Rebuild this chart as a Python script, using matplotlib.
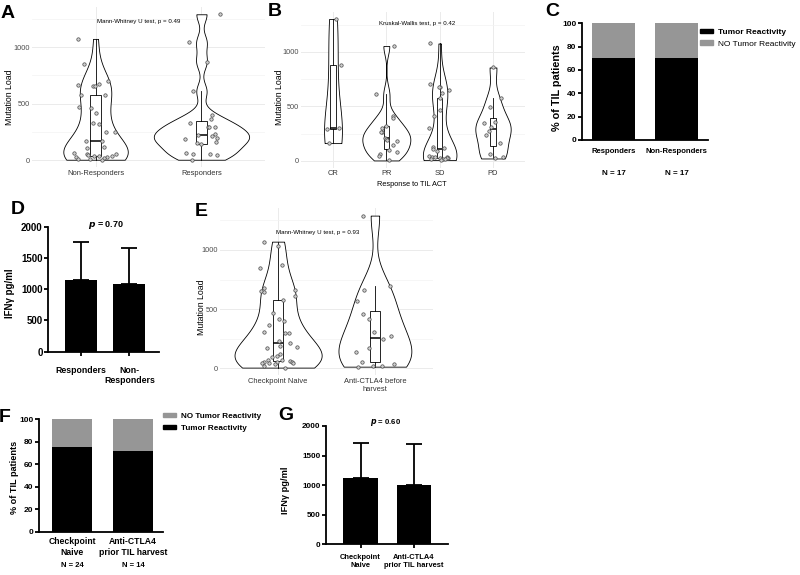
import numpy as np
import matplotlib
matplotlib.use("Agg")
import matplotlib.pyplot as plt
from matplotlib.patches import Patch

plt.rcParams['font.family'] = ['Liberation Sans', 'DejaVu Sans']

W, H = 800, 575

# --- data ---
# A: mutation load by response
mut_nonresp = [1073, 852, 698, 672, 669, 660, 654, 578, 572, 469, 457, 413, 324, 318,
               250, 248, 168, 165, 118, 109, 62, 53, 53, 41, 38, 38, 38, 27, 24, 18,
               12, 12, 3]
mut_resp = [1291, 1043, 872, 610, 398, 363, 324, 289, 289, 289, 227, 221, 212, 195,
            183, 162, 150, 139, 65, 53, 50, 41, 3]
labels_a = ['Non-Responders', 'Responders']

# B: mutation load by best response
mut_cr = [1300, 875, 300, 290, 162]
mut_pr = [1052, 609, 407, 394, 321, 300, 266, 263, 211, 202, 190, 180, 141, 95, 83,
          58, 46, 3]
mut_sd = [1076, 703, 673, 673, 648, 620, 572, 465, 413, 303, 130, 113, 107, 89, 46,
          37, 37, 31, 28, 21, 21, 15, 15, 12, 6]
mut_pd = [856, 572, 495, 358, 349, 312, 275, 235, 159, 58, 37, 21]
labels_b = ['CR', 'PR', 'SD', 'PD']

# C: tumor reactivity by response
labels_c = ['Responders', 'Non-Responders']
react_c = [70.6, 70.6]
n_c = [17, 17]

# D: IFNg by response
labels_d = ['Responders', 'Non-\nResponders']
ifng_d = [1150, 1080]
ifng_d_sd = [600, 585]

# E: mutation load by prior checkpoint
mut_naive = [1070, 1037, 873, 851, 676, 662, 656, 642, 608, 577, 470, 414, 400, 366,
             304, 301, 296, 234, 211, 192, 183, 169, 121, 104, 99, 70, 70, 59, 56, 56,
             51, 48, 45, 42, 34, 20, 6]
mut_ctla4 = [1290, 699, 659, 572, 456, 417, 310, 273, 245, 169, 141, 56, 34, 20, 20, 14]
labels_e = ['Checkpoint Naive', 'Anti-CTLA4 before\nharvest']

# F: tumor reactivity by prior checkpoint
labels_f = ['Checkpoint\nNaive', 'Anti-CTLA4\nprior TIL harvest']
react_f = [75.0, 71.4]
n_f = [24, 14]

# G: IFNg by prior checkpoint
labels_g = ['Checkpoint\nNaive', 'Anti-CTLA4\nprior TIL harvest']
ifng_g = [1115, 1005]
ifng_g_sd = [605, 695]

GRAY = '#969696'

fig = plt.figure(figsize=(W / 100, H / 100), dpi=100)


def axes_px(x0, y0, x1, y1):
    return fig.add_axes([x0 / W, 1 - y1 / H, (x1 - x0) / W, (y1 - y0) / H])


def ftext(x, y, s, **kw):
    fig.text(x / W, 1 - y / H, s, **kw)


def kde_nrd0(vals, grid):
    v = np.asarray(vals, float)
    n = len(v)
    sd = v.std(ddof=1)
    q75, q25 = np.percentile(v, [75, 25])
    lo = min(sd, (q75 - q25) / 1.34)
    if lo <= 0:
        lo = sd
    bw = 0.9 * lo * n ** -0.2
    z = (grid[:, None] - v[None, :]) / bw
    return np.exp(-0.5 * z ** 2).sum(1) / (n * bw * np.sqrt(2 * np.pi))


def violin_panel(ax, groups, labels, seed):
    pos = np.arange(1, len(groups) + 1)
    curves = []
    for g in groups:
        grid = np.linspace(min(g), max(g), 300)
        curves.append((grid, kde_nrd0(g, grid)))
    peak = max(d.max() for _, d in curves)
    for p, (grid, d) in zip(pos, curves):
        hw = 0.45 * d / peak
        ax.fill_betweenx(grid, p - hw, p + hw, facecolor='white',
                         edgecolor='black', lw=0.6, zorder=2)
    ax.boxplot(groups, positions=pos, widths=0.1, showfliers=False, showcaps=False,
               patch_artist=True, zorder=3,
               boxprops=dict(facecolor='white', edgecolor='black', lw=0.6),
               whiskerprops=dict(color='black', lw=0.6),
               medianprops=dict(color='black', lw=1.1))
    # jitter (x only), as geom_jitter does
    rng = np.random.default_rng(seed)
    for p, g in zip(pos, groups):
        xj = p + rng.uniform(-0.2, 0.2, len(g))
        ax.scatter(xj, g, s=6, facecolor='#cfcfcf', edgecolor='#4a4a4a',
                   lw=0.5, zorder=4)
    allv = np.concatenate([np.asarray(g, float) for g in groups])
    rngv = allv.max() - allv.min()
    ax.set_ylim(allv.min() - 0.05 * rngv, allv.max() + 0.05 * rngv)
    ax.set_xlim(0.4, len(groups) + 0.6)
    ax.set_xticks(pos, labels)
    ax.set_yticks([0, 500, 1000])
    ax.set_yticks([250, 750, 1250], minor=True)
    ax.grid(which='major', color='#ebebeb', lw=0.7)
    ax.grid(which='minor', axis='y', color='#f3f3f3', lw=0.5)
    ax.set_axisbelow(True)
    for s in ax.spines.values():
        s.set_visible(False)
    ax.tick_params(which='both', length=0, labelsize=5.3, labelcolor='#4d4d4d', pad=1.5)
    ax.tick_params(axis='x', labelsize=5.4, labelcolor='#333333', pad=2)


def prism_axes(ax, ylim, yticks, tick_fs, ytick_len=3):
    for s in ['top', 'right']:
        ax.spines[s].set_visible(False)
    for s in ['left', 'bottom']:
        ax.spines[s].set_linewidth(1.3)
    ax.set_ylim(*ylim)
    ax.set_yticks(yticks, [str(t) for t in yticks], fontweight='bold', fontsize=tick_fs)
    ax.tick_params(axis='y', direction='out', length=ytick_len, width=1.3, pad=1)


# ---------- A ----------
axA = axes_px(32, 7, 265, 167)
violin_panel(axA, [mut_nonresp, mut_resp], labels_a, 3)
ftext(10, 97, 'Mutation Load', rotation=90, ha='center', va='center', fontsize=6.3)
ftext(139, 22, 'Mann-Whitney U test, p = 0.49', ha='center', va='center', fontsize=4.4)
ftext(8, 14, 'A', ha='center', va='center', fontsize=14, fontweight='bold')

# ---------- B ----------
axB = axes_px(301, 12, 525, 167.5)
violin_panel(axB, [mut_cr, mut_pr, mut_sd, mut_pd], labels_b, 7)
ftext(279, 97, 'Mutation Load', rotation=90, ha='center', va='center', fontsize=6.3)
ftext(412, 185, 'Response to TIL ACT', ha='center', va='center', fontsize=5.3)
ftext(417, 23, 'Kruskal-Wallis test, p = 0.42', ha='center', va='center', fontsize=4.4)
ftext(275, 11, 'B', ha='center', va='center', fontsize=14, fontweight='bold')

# ---------- C ----------
axC = axes_px(582, 23.3, 708, 140)
xc = np.arange(len(labels_c))
axC.bar(xc, react_c, width=0.67, color='black', label='Tumor Reactivity')
axC.bar(xc, [100 - v for v in react_c], bottom=react_c, width=0.67, color=GRAY,
        label='NO Tumor Reactivity')
prism_axes(axC, (0, 100), [0, 20, 40, 60, 80, 100], 6)
axC.set_xlim(-0.5, 1.5)
axC.set_xticks(xc, labels_c, fontweight='bold', fontsize=5.6)
axC.tick_params(axis='x', length=0, pad=6)
for x, n in zip(xc, n_c):
    axC.text(x, -29, f'N = {n}', ha='center', va='center', fontsize=5.8,
             fontweight='bold', clip_on=False)
ftext(557, 88, '% of TIL patients', rotation=90, ha='center', va='center',
      fontsize=7.8, fontweight='bold')
legC = fig.legend(handles=[Patch(color='black', label='Tumor Reactivity'),
                           Patch(color=GRAY, label='NO Tumor Reactivity')],
                  loc='upper left', bbox_to_anchor=(700 / W, 1 - 29 / H), frameon=False,
                  handlelength=1.6, handleheight=0.45, handletextpad=0.6,
                  labelspacing=0.5, borderpad=0, borderaxespad=0,
                  prop=dict(size=6, weight='bold'))
legC.get_texts()[1].set_fontweight('normal')
ftext(552, 12, 'C', ha='center', va='center', fontsize=14, fontweight='bold')

# ---------- D ----------
axD = axes_px(48.3, 226.7, 159, 351.7)
xd = np.arange(len(labels_d))
axD.bar(xd, ifng_d, width=0.66, color='black')
axD.errorbar(xd, ifng_d, yerr=[[0] * len(ifng_d), ifng_d_sd], fmt='none',
             ecolor='black', elinewidth=1.3, capsize=5.5, capthick=1.3)
prism_axes(axD, (0, 2000), [0, 500, 1000, 1500, 2000], 7)
axD.set_xlim(-0.674, 1.61)
axD.set_xticks(xd, labels_d, fontweight='bold', fontsize=6.3)
axD.tick_params(axis='x', direction='out', length=3, width=1.3, pad=7)
ftext(10, 293, 'IFNγ pg/ml', rotation=90, ha='center', va='center', fontsize=7,
      fontweight='bold')
ftext(106, 225, r'$\boldsymbol{p}$ = 0.70', ha='center', va='center', fontsize=6.5,
      fontweight='bold')
ftext(18, 210, 'D', ha='center', va='center', fontsize=14, fontweight='bold')

# ---------- E ----------
axE = axes_px(220, 208, 433, 375.2)
violin_panel(axE, [mut_naive, mut_ctla4], labels_e, 11)
ftext(202, 307, 'Mutation Load', rotation=90, ha='center', va='center', fontsize=6.3)
ftext(318, 232, 'Mann-Whitney U test, p = 0.93', ha='center', va='center', fontsize=4.4)
ftext(201, 211, 'E', ha='center', va='center', fontsize=14, fontweight='bold')

# ---------- F ----------
axF = axes_px(39, 419, 163, 531.7)
xf = np.arange(len(labels_f))
axF.bar(xf, react_f, width=0.66, color='black')
axF.bar(xf, [100 - v for v in react_f], bottom=react_f, width=0.66, color=GRAY)
prism_axes(axF, (0, 100), [0, 20, 40, 60, 80, 100], 6)
axF.set_xlim(-0.54, 1.49)
axF.set_xticks(xf, labels_f, fontweight='bold', fontsize=6.2)
axF.tick_params(axis='x', length=0, pad=4)
for x, n in zip(xf, n_f):
    axF.text(x, -30, f'N = {n}', ha='center', va='center', fontsize=5.5,
             fontweight='bold', clip_on=False)
ftext(15, 477, '% of TIL patients', rotation=90, ha='center', va='center',
      fontsize=6.6, fontweight='bold')
fig.legend(handles=[Patch(color=GRAY, label='NO Tumor Reactivity'),
                    Patch(color='black', label='Tumor Reactivity')],
           loc='upper left', bbox_to_anchor=(163 / W, 1 - 413 / H), frameon=False,
           handlelength=1.6, handleheight=0.45, handletextpad=0.6,
           labelspacing=0.55, borderpad=0, borderaxespad=0,
           prop=dict(size=5.9, weight='bold'))
ftext(5, 418, 'F', ha='center', va='center', fontsize=14, fontweight='bold')

# ---------- G ----------
axG = axes_px(326, 426, 448, 544.3)
xg = np.arange(len(labels_g))
axG.bar(xg, ifng_g, width=0.65, color='black')
axG.errorbar(xg, ifng_g, yerr=[[0] * len(ifng_g), ifng_g_sd], fmt='none',
             ecolor='black', elinewidth=1.3, capsize=5.5, capthick=1.3)
prism_axes(axG, (0, 2000), [0, 500, 1000, 1500, 2000], 5.9)
axG.set_xlim(-0.645, 1.635)
axG.set_xticks(xg, labels_g, fontweight='bold', fontsize=5.4)
axG.tick_params(axis='x', direction='out', length=3, width=1.3, pad=4)
ftext(286, 490, 'IFNγ pg/ml', rotation=90, ha='center', va='center', fontsize=6.7,
      fontweight='bold')
ftext(386, 423, r'$\boldsymbol{p}$ = 0.60', ha='center', va='center', fontsize=5.6,
      fontweight='bold')
ftext(286, 416, 'G', ha='center', va='center', fontsize=14, fontweight='bold')

fig.savefig('out.png', dpi=100)
